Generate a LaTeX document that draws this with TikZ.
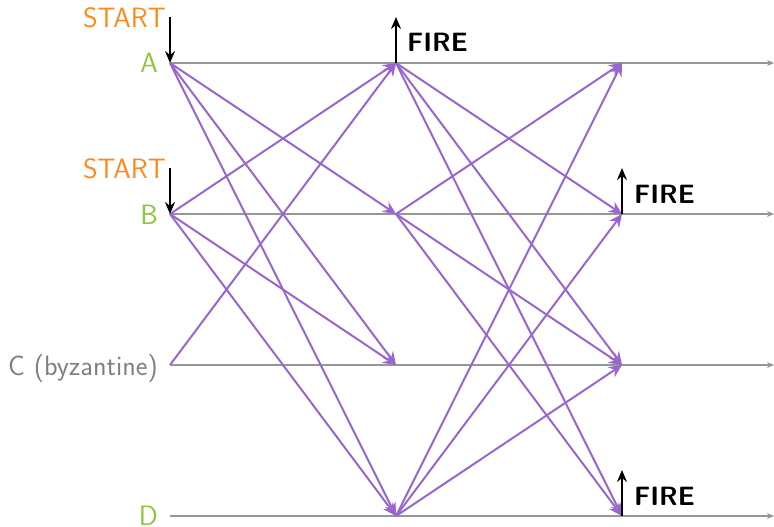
\documentclass[tikz,border=0pt]{standalone}
\usetikzlibrary{arrows.meta}
\definecolor{msgpurple}{RGB}{153,102,207}
\definecolor{procgreen}{RGB}{140,198,63}
\definecolor{startorange}{RGB}{255,136,26}
\definecolor{linegray}{RGB}{150,150,150}
\definecolor{labelgray}{RGB}{128,128,128}
\begin{document}
\begin{tikzpicture}[x=1pt,y=-1pt,
  every node/.style={inner sep=0pt, font=\fontsize{28}{33}\selectfont\sffamily},
  proclabel/.style={anchor=base east},
  firelabel/.style={anchor=base west, font=\fontsize{26.5}{32}\selectfont\sffamily\bfseries},
  timeline/.style={draw=linegray, line width=1.3pt, -{Stealth[length=7pt,width=6pt]}},
  msg/.style={draw=msgpurple, line width=2pt, -{Stealth[length=13pt,width=12pt,inset=4.5pt]}},
  evt/.style={draw=black, line width=2pt, -{Stealth[length=12pt,width=10pt,inset=4pt]}}
]
\useasboundingbox (0,0) rectangle (774,527);
% event points
\coordinate (a0) at (170,63);  \coordinate (a1) at (396,63);  \coordinate (a2) at (622,63);  \coordinate (aend) at (774,63);
\coordinate (b0) at (170,214); \coordinate (b1) at (396,214); \coordinate (b2) at (622,214); \coordinate (bend) at (774,214);
\coordinate (c0) at (170,365); \coordinate (c1) at (396,365); \coordinate (c2) at (622,365); \coordinate (cend) at (774,365);
\coordinate (d0) at (170,516); \coordinate (d1) at (396,516); \coordinate (d2) at (622,516); \coordinate (dend) at (774,516);
% labels
\node[proclabel, text=procgreen] (la) at (158,73) {A};
\node[proclabel, text=procgreen] (lb) at (158,224) {B};
\node[proclabel, text=labelgray] (lc) at (158,375) {C (byzantine)};
\node[proclabel, text=procgreen] (ld) at (158,525.5) {D};
\node[proclabel, text=startorange] (sa) at (166,28) {START};
\node[proclabel, text=startorange] (sb) at (166,178) {START};
% timelines
\draw[timeline] (a0) -- (aend);
\draw[timeline] (b0) -- (bend);
\draw[timeline] (c0) -- (cend);
\draw[timeline] (d0) -- (dend);
% round 1 messages
\draw[msg] (a0) -- (b1);
\draw[msg] (a0) -- (c1);
\draw[msg] (a0) -- (d1);
\draw[msg] (b0) -- (a1);
\draw[msg] (b0) -- (c1);
\draw[msg] (b0) -- (d1);
\draw[msg] (c0) -- (a1);
% round 2 messages
\draw[msg] (a1) -- (b2);
\draw[msg] (a1) -- (c2);
\draw[msg] (a1) -- (d2);
\draw[msg] (b1) -- (a2);
\draw[msg] (b1) -- (c2);
\draw[msg] (b1) -- (d2);
\draw[msg] (d1) -- (a2);
\draw[msg] (d1) -- (b2);
\draw[msg] (d1) -- (c2);
% start arrows
\coordinate (sta) at (170,17);
\coordinate (stb) at (170,168);
\draw[evt] (sta) -- (a0);
\draw[evt] (stb) -- (b0);
% fire arrows
\coordinate (fa) at (396,17);
\coordinate (fb) at (622,168);
\coordinate (fd) at (622,470);
\draw[evt] (a1) -- (fa);
\draw[evt] (b2) -- (fb);
\draw[evt] (d2) -- (fd);
\node[firelabel] (fla) at (407,52) {FIRE};
\node[firelabel] (flb) at (634,203) {FIRE};
\node[firelabel] (fld) at (634,505) {FIRE};
\end{tikzpicture}
\end{document}
